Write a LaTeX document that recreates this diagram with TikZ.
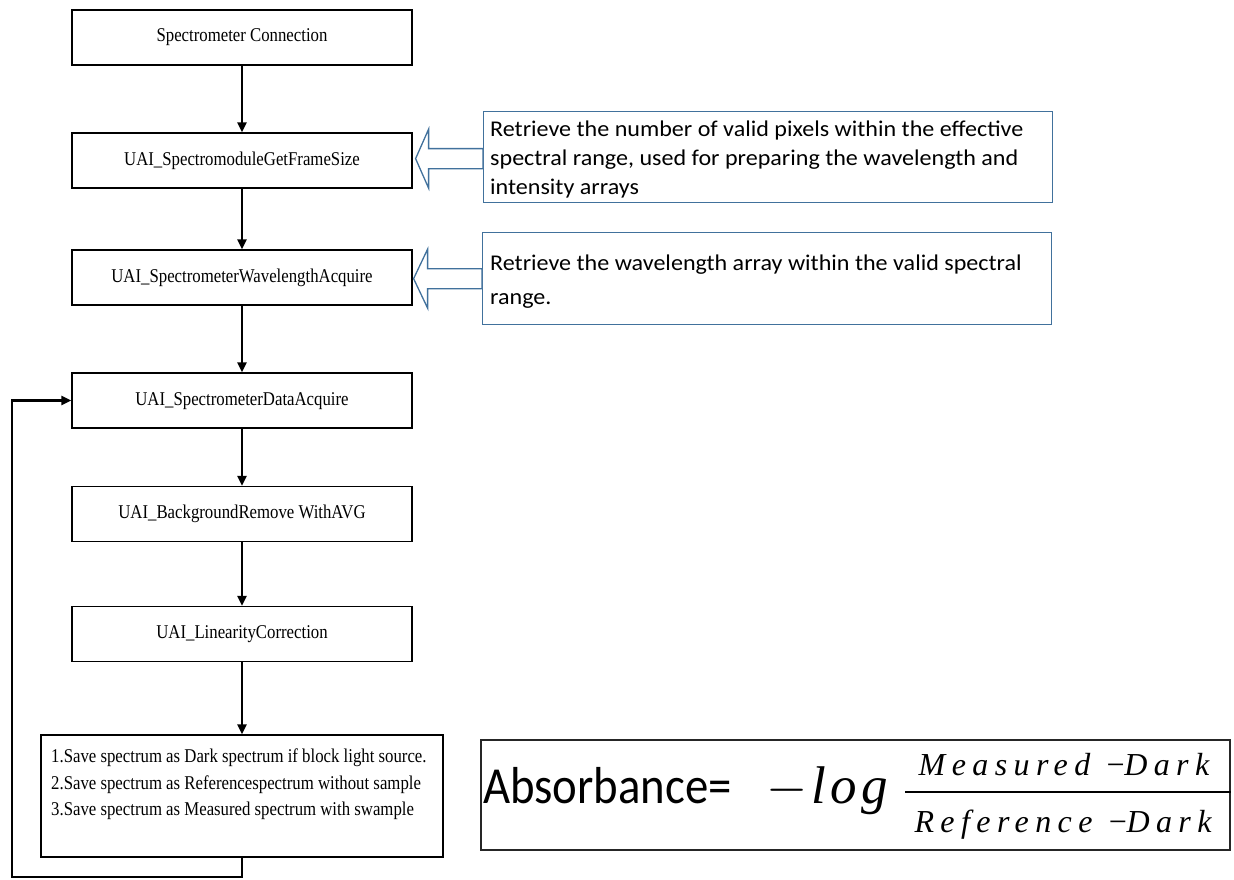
\RequirePackage{fix-cm}
\documentclass[tikz,border=0pt]{standalone}
\usepackage{fontspec}
\usetikzlibrary{arrows.meta,calc}

\newfontfamily\flowfont{Liberation Serif}[FakeStretch=0.86]
\newfontfamily\notefont{Carlito}[FakeStretch=1.07]
\newfontfamily\formfont{Carlito}[FakeStretch=0.9]
\newfontfamily\fracfont{Liberation Serif}[LetterSpace=20]
\newfontfamily\logfont{Liberation Serif}[LetterSpace=8]
\definecolor{calloutblue}{RGB}{65,113,156}

\tikzset{
  flowbox/.style={draw=black, line width=1.2pt, fill=white,
    minimum width=340pt, minimum height=55pt, inner sep=0pt,
    text height=13pt, text depth=4pt,
    font=\flowfont\fontsize{19.5}{26.5}\selectfont},
  flowarrow/.style={draw=black, line width=2.2pt,
    -{Triangle[length=10pt,width=9pt]}},
  callout/.style={draw=calloutblue, line width=1.3pt, fill=white,
    anchor=north west, minimum width=569pt},
  notetext/.style={anchor=north west, align=left, inner sep=0pt},
  hollow/.style={draw=calloutblue, line width=1.3pt, fill=white,
    line join=miter},
  formtext/.style={anchor=base west, inner sep=0pt},
}

\begin{document}
\begin{tikzpicture}[x=1pt,y=-1pt]
\useasboundingbox (0,0) rectangle (1234,880);

% main processing chain
\node[flowbox] (b1) at (242,37.5) {Spectrometer Connection};
\node[flowbox] (b2) at (242,160.5) {UAI\_SpectromoduleGetFrameSize};
\node[flowbox] (b3) at (242,277.5) {UAI\_SpectrometerWavelengthAcquire};
\node[flowbox] (b4) at (242,400.5) {UAI\_SpectrometerDataAcquire};
\node[flowbox] (b5) at (242,514) {UAI\_BackgroundRemove WithAVG};
\node[flowbox] (b6) at (242,634) {UAI\_LinearityCorrection};
\node[flowbox, minimum width=402pt, minimum height=122pt,
      text height=0pt, text depth=0pt] (b7) at (242,796) {};
\node[notetext, font=\flowfont\fontsize{19.5}{26.5}\selectfont] (b7t)
  at (51,744)
  {\strut 1.Save spectrum as Dark spectrum if block light source.\\
   2.Save spectrum as Referencespectrum without sample\\
   3.Save spectrum as Measured spectrum with swample};

\foreach \a/\b in {b1/b2,b2/b3,b3/b4,b4/b5,b5/b6,b6/b7}
  \draw[flowarrow] (\a.south) -- (\b.north);

% acquisition loop back to the data acquisition step
\coordinate (loopturn) at (12,877);
\draw[flowarrow] (b7.south) |- (loopturn) |- (b4.west);

% explanatory notes
\node[callout, minimum height=91pt] (c1) at (483,111) {};
\node[notetext, font=\notefont\fontsize{22.5}{29}\selectfont] (c1t)
  at (490,115.5)
  {\strut Retrieve the number of valid pixels within the effective\\
   spectral range, used for preparing the wavelength and\\
   intensity arrays};
\node[callout, minimum height=92pt] (c2) at (482,232) {};
\node[notetext, font=\notefont\fontsize{22.5}{34}\selectfont] (c2t)
  at (490,246)
  {\strut Retrieve the wavelength array within the valid spectral\\
   range.};

\coordinate (t1) at ($(b2.east |- c1.west)+(3,1.5)$);
\draw[hollow] (t1) -- ++(13,-29.5) -- ++(0,19.5)
  -- ($(t1 -| c1.west)+(0,-10)$) -- ($(t1 -| c1.west)+(0,10)$)
  -- ($(t1)+(13,10)$) -- ++(0,19.5) -- cycle;
\coordinate (t2) at ($(b3.east |- c2.west)+(1,0)$);
\draw[hollow] (t2) -- ++(14,-29.5) -- ++(0,19.5)
  -- ($(c2.west)+(0,-10)$) -- ($(c2.west)+(0,10)$)
  -- ($(t2)+(14,10)$) -- ++(0,19.5) -- cycle;

% absorbance formula
\node[draw=black!85, line width=1.3pt, minimum width=749pt,
      minimum height=110pt, inner sep=0pt] (fbox) at (855.5,795) {};
\node[formtext, font=\formfont\fontsize{52}{60}\selectfont] (absl)
  at (483,803) {Absorbance=};
\node[formtext, font=\fontsize{53}{60}\selectfont] (neglog)
  at (766,803) {$-$\kern4pt{\logfont\itshape log}};
\node[anchor=base, inner sep=0pt,
      font=\fracfont\itshape\fontsize{32}{36}\selectfont] (numer)
  at (1064,775) {Measured −\kern-2pt Dark};
\node[anchor=base, inner sep=0pt,
      font=\fracfont\itshape\fontsize{32}{36}\selectfont] (denom)
  at (1063,832) {Reference −\kern-2pt Dark};
\coordinate (barL) at (905,792);
\draw[line width=2.6pt] (barL) -- (barL -| fbox.east);
\end{tikzpicture}
\end{document}
